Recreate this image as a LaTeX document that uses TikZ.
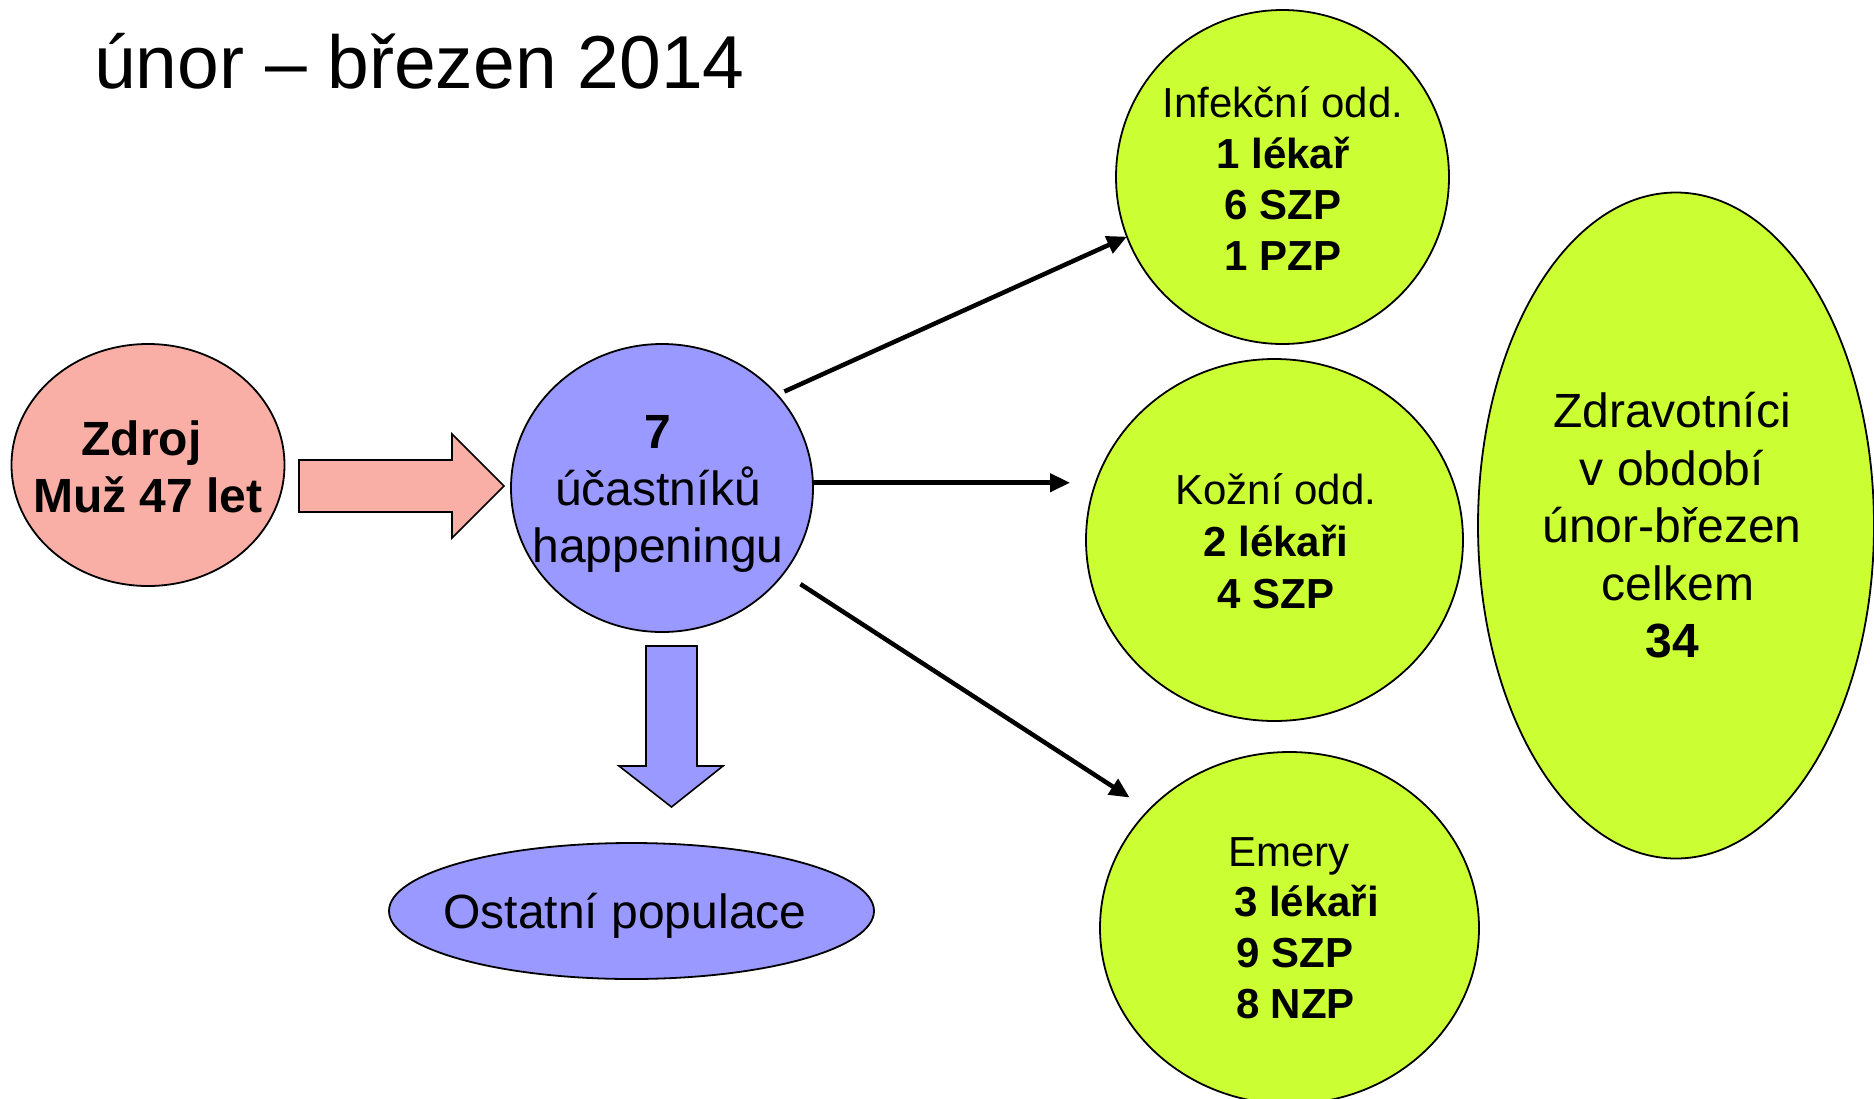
\documentclass[tikz,border=0pt]{standalone}
\usepackage{fontspec}
\setmainfont{Liberation Sans}
\usetikzlibrary{arrows.meta,shapes.geometric}
\definecolor{pinkf}{RGB}{249,175,165}
\definecolor{bluef}{RGB}{153,153,255}
\definecolor{greenf}{RGB}{204,255,51}
\begin{document}
\begin{tikzpicture}[x=1pt,y=-1pt,
  oval/.style={ellipse, draw=black, line width=1.8pt, inner sep=0pt, outer sep=0pt},
  txt/.style={inner sep=0pt, outer sep=0pt, align=center, anchor=north, text=black},
  conn/.style={line width=4.5pt, -{Triangle[length=20pt,width=18pt]}},
  blockarrow/.style={draw=black, line width=1.6pt, line join=miter}]
\useasboundingbox (0,0) rectangle (1874,1098);
\fill[white] (0,0) rectangle (1874,1098);

% title
\node[inner sep=0pt, anchor=base west, font=\fontsize{75}{90}\selectfont] (title) at (94,88) {únor – březen 2014};

% shapes
\node[oval, fill=pinkf, minimum width=273pt, minimum height=242pt] (zdroj) at (148,465) {};
\node[oval, fill=bluef, minimum width=302pt, minimum height=288pt] (blue) at (662,488) {};
\node[oval, fill=bluef, minimum width=485pt, minimum height=136pt] (ost) at (631.5,911) {};
\node[oval, fill=greenf, minimum width=333pt, minimum height=334pt] (inf) at (1282.5,177) {};
\node[oval, fill=greenf, minimum width=377pt, minimum height=362pt] (koz) at (1274.5,540) {};
\node[oval, fill=greenf, minimum width=379pt, minimum height=352pt] (eme) at (1289.5,928) {};
\node[oval, fill=greenf, minimum width=396pt, minimum height=666pt] (total) at (1676,525.5) {};

% texts
\node[txt, font=\fontsize{48}{57.6}\selectfont\bfseries] (zdrojtxt) at (148,414.7)
  {\strut Zdroj\hspace*{13pt}\\ \strut Muž 47 let};
\node[txt, font=\fontsize{48}{57}\selectfont] (bluetxt) at (658,408.1)
  {\strut\textbf{7}\\ \strut účastníků\\ \strut happeningu};
\node[inner sep=0pt, anchor=base, font=\fontsize{48}{57.6}\selectfont] (osttxt) at (625,928) {Ostatní populace};
\node[txt, font=\fontsize{42}{51}\selectfont] (inftxt) at (1283,81.3)
  {\strut Infekční odd.\\ \strut\textbf{1 lékař}\\ \strut\textbf{6 SZP}\\ \strut\textbf{1 PZP}};
\node[txt, font=\fontsize{42}{52}\selectfont] (koztxt) at (1276,467.6)
  {\strut Kožní odd.\\ \strut\textbf{2 lékaři}\\ \strut\textbf{4 SZP}};
\node[txt, font=\fontsize{42}{50.7}\selectfont] (emetxt) at (1289,830.5)
  {\strut Emery\\ \strut\hspace*{35pt}\textbf{3 lékaři}\\ \strut\hspace*{12pt}\textbf{9 SZP}\\ \strut\hspace*{13pt}\textbf{8 NZP}};
\node[txt, font=\fontsize{48}{57.4}\selectfont] (totaltxt) at (1672,387.8)
  {\strut Zdravotníci\\ \strut v období\\ \strut únor-březen\\ \strut\hspace*{12pt}celkem\\ \strut\textbf{34}};

% block arrows
\draw[blockarrow, fill=pinkf] (299,460) -- (452,460) -- (452,434) -- (504,486) -- (452,538) -- (452,512) -- (299,512) -- cycle;
\draw[blockarrow, fill=bluef] (646,646) -- (697,646) -- (697,766) -- (723,766) -- (671.5,807) -- (619,766) -- (646,766) -- cycle;

% connectors
\draw[conn, shorten <=8pt] (blue.39.3) -- (inf.201.7);
\draw[conn] (blue.2.7) -- ([xshift=-16pt]blue.2.7 -| koz.west);
\draw[conn, shorten <=20pt, shorten >=23pt] (blue.-35.6) -- (eme.140.6);
\end{tikzpicture}
\end{document}
